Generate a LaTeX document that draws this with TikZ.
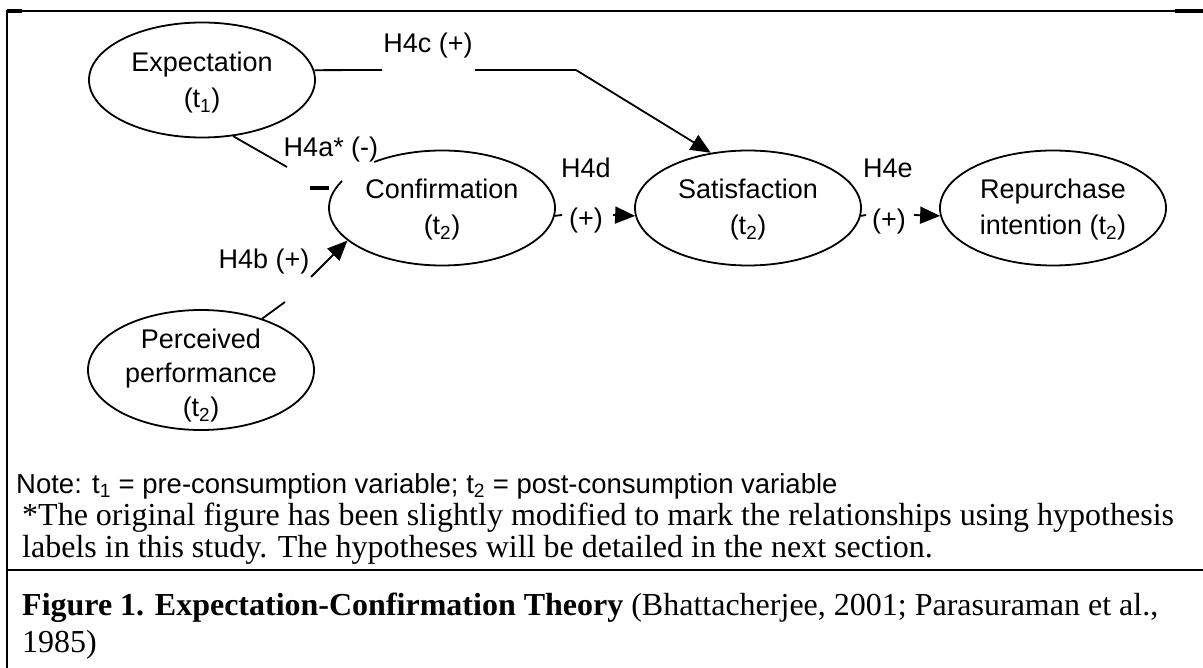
\documentclass[tikz,border=0pt]{standalone}
\usepackage{fontspec}
\setmainfont{Liberation Serif}
\newfontfamily\arialf{Liberation Sans}
\usetikzlibrary{shapes.geometric,arrows.meta}
\tikzset{
  ell/.style={draw,line width=1.8pt,ellipse,inner sep=0pt,minimum width=226pt,minimum height=115pt},
  lbl/.style={align=center,font=\arialf\fontsize{27}{36}\selectfont,inner sep=0pt},
  hyp/.style={font=\arialf\fontsize{27}{30}\selectfont,inner sep=0pt},
  conn/.style={line width=1.8pt},
  arr/.style={line width=1.8pt,-{Triangle[length=20pt,width=17pt]}},
  notetext/.style={font=\arialf\fontsize{27.5}{30}\selectfont,inner sep=0pt,anchor=base west},
  bodytext/.style={font=\fontsize{32}{37}\selectfont,inner sep=0pt,anchor=base west},
}
\begin{document}
\begin{tikzpicture}[x=1pt,y=-1pt]
\useasboundingbox (0,0) rectangle (1203,668);
% frame
\draw[line width=2pt] (7,11) -- (1203,11);
\draw[line width=4pt] (7,11) -- (22,11);
\draw[line width=4pt] (1175,11) -- (1203,11);
\draw[line width=2.2pt] (7,10) -- (7,668);
\draw[line width=2.5pt] (7,570) -- (1203,570);
% ellipses
\node[ell] (exp) at (202,80) {};
\node[lbl] at ([yshift=-3pt]exp.center) {Expectation\\(t\textsubscript{1})};
\node[ell] (conf) at (442,208) {};
\draw[white,line width=4pt] ([shift={(127:113pt and 57.5pt)}]conf.center) arc[start angle=127,end angle=152,x radius=113pt,y radius=57.5pt];
\node[lbl] at ([yshift=-2pt]conf.center) {Confirmation\\(t\textsubscript{2})};
\node[ell] (sat) at (748,208) {};
\node[lbl] at ([yshift=-2pt]sat.center) {Satisfaction\\(t\textsubscript{2})};
\node[ell] (rep) at (1053,208) {};
\node[lbl] at ([yshift=-2pt]rep.center) {Repurchase\\intention (t\textsubscript{2})};
\node[ell,minimum height=120pt] (per) at (201,370) {};
\node[lbl,font=\arialf\fontsize{27}{34}\selectfont] at ([yshift=-6pt]per.center) {Perceived\\performance\\(t\textsubscript{2})};
% H4c
\coordinate (c1) at (382,70);
\coordinate (c2) at (475,70);
\coordinate (c3) at (576,70);
\draw[conn] (exp.5) -- (c1);
\draw[conn] (c2) -- (c3);
\draw[arr] (c3) -- (sat.124);
\node[hyp] (h4c) at (428,46) {H4c (+)};
% H4a
\coordinate (a1) at (287,167);
\coordinate (d1) at (310,188);
\coordinate (d2) at (329,188);
\draw[conn] (exp.-61) -- (a1);
\draw[line width=3.5pt] (d1) -- (d2);
\node[hyp] (h4a) at (331,150) {H4a* (-)};
% H4b
\coordinate (b1) at (285,302);
\coordinate (b2) at (311,277);
\draw[conn] (per.40) -- (b1);
\draw[arr] (b2) -- (conf.-161);
\node[hyp] (h4b) at (264,262) {H4b (+)};
% H4d
\coordinate (s1) at (562,215);
\coordinate (s2) at (613,215);
\draw[conn] (conf.-4) -- (s1);
\draw[arr] (s2) -- (sat.-176);
\node[hyp] (h4d) at (586,168) {H4d};
\node[hyp] (h4dp) at (586,221) {(+)};
% H4e
\coordinate (e1) at (866,215);
\coordinate (e2) at (914,215);
\draw[conn] (sat.-4) -- (e1);
\draw[arr] (e2) -- (rep.-176);
\node[hyp] (h4e) at (888,168) {H4e};
\node[hyp] (h4ep) at (889,222) {(+)};
% texts
\node[notetext] (note) at (16,493) {Note: t\textsubscript{1} = pre-consumption variable; t\textsubscript{2} = post-consumption variable};
\node[bodytext] (l1) at (22,525) {*The original figure has been slightly modified to mark the relationships using hypothesis};
\node[bodytext] (l2) at (22,557) {labels in this study. The hypotheses will be detailed in the next section.};
\node[bodytext] (f1) at (22,615) {\textbf{Figure 1. Expectation-Confirmation Theory} (Bhattacherjee, 2001; Parasuraman et al.,};
\node[bodytext] (f2) at (22,652) {1985)};
\end{tikzpicture}
\end{document}
